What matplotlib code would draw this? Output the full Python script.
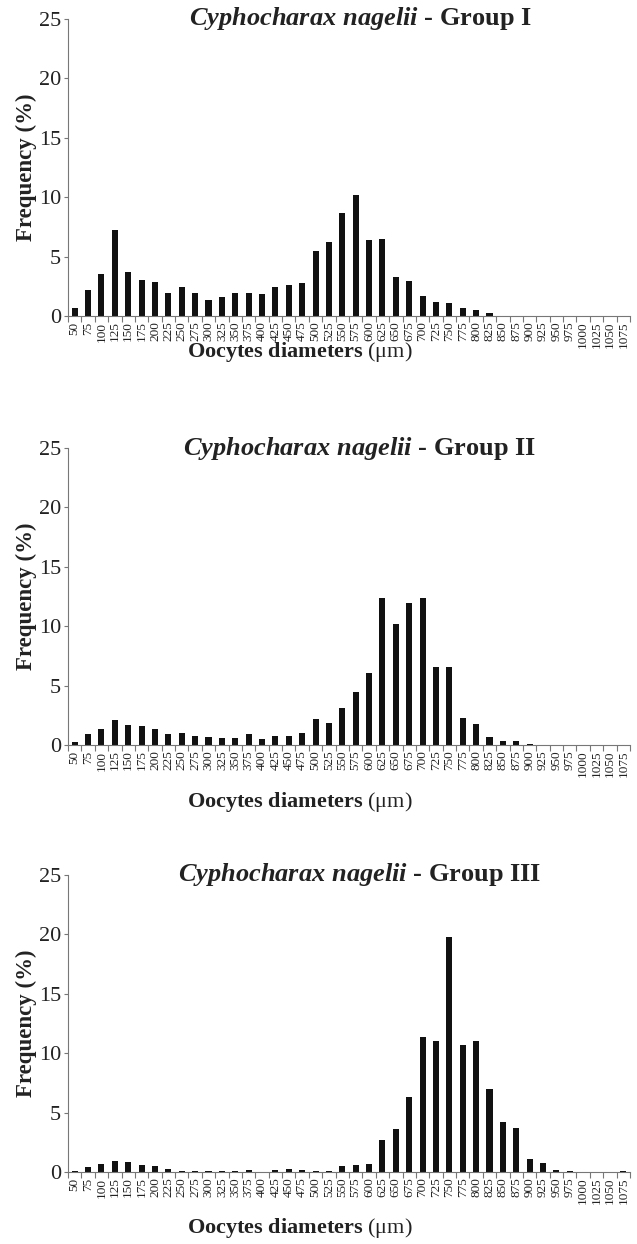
import matplotlib.pyplot as plt
import numpy as np

plt.rcParams['font.family'] = 'Liberation Serif'
plt.rcParams['mathtext.fontset'] = 'custom'
plt.rcParams['mathtext.it'] = 'Liberation Serif:italic:bold'
plt.rcParams['mathtext.rm'] = 'Liberation Serif'

# Oocyte diameter classes (um)
diameters = list(range(50, 1100, 25))

# Frequency (%) per class
group1 = [0.65, 2.2, 3.5, 7.2, 3.7, 3.0, 2.85, 1.93, 2.46, 1.93, 1.37, 1.57, 1.93, 1.93,
          1.88, 2.46, 2.63, 2.8, 5.43, 6.25, 8.7, 10.2, 6.4, 6.5, 3.25, 2.94, 1.68, 1.18,
          1.09, 0.65, 0.5, 0.22, 0, 0, 0, 0, 0, 0, 0, 0, 0, 0]
group2 = [0.25, 0.9, 1.37, 2.07, 1.68, 1.62, 1.32, 0.9, 1.04, 0.73, 0.64, 0.59, 0.59, 0.9,
          0.5, 0.73, 0.78, 0.98, 2.16, 1.82, 3.08, 4.48, 6.1, 12.35, 10.15, 11.95, 12.4, 6.55,
          6.55, 2.27, 1.74, 0.64, 0.3, 0.3, 0.1, 0, 0, 0, 0, 0, 0, 0]
group3 = [0.05, 0.45, 0.65, 0.93, 0.85, 0.6, 0.48, 0.28, 0.08, 0.08, 0.08, 0.08, 0.08, 0.17,
          0, 0.17, 0.22, 0.17, 0.08, 0.08, 0.5, 0.56, 0.68, 2.68, 3.66, 6.34, 11.4, 11.0,
          19.8, 10.65, 11.0, 6.96, 4.17, 3.69, 1.13, 0.79, 0.14, 0.06, 0, 0, 0, 0.06]

titles = [r'$\mathit{Cyphocharax\ nagelii}$ - Group I',
          r'$\mathit{Cyphocharax\ nagelii}$ - Group II',
          r'$\mathit{Cyphocharax\ nagelii}$ - Group III']
groups = [group1, group2, group3]

W, H = 637, 1244
fig = plt.figure(figsize=(W / 100, H / 100), dpi=100)

left, right = 68, 630
baselines = [316, 745, 1172]   # pixel row of the x axis
ax_h = 297
xlabel_y = [352, 802, 1228]

x = np.arange(len(diameters))
grey = '#777777'
txt = '#222222'
for k, (vals, title) in enumerate(zip(groups, titles)):
    b = baselines[k]
    ax = fig.add_axes([left / W, (H - b) / H, (right - left) / W, ax_h / H])
    ax.bar(x, vals, width=0.45, color='#111111')
    ax.set_xlim(-0.5, len(diameters) - 0.5)
    ax.set_ylim(0, 25)
    ax.set_yticks([0, 5, 10, 15, 20, 25])
    ax.tick_params(axis='y', labelsize=16, length=3, width=0.8, color=grey, pad=2,
                   labelcolor=txt)
    ax.set_xticks(x)
    ax.set_xticklabels([str(d) for d in diameters], rotation=90, fontsize=9.5, color=txt)
    ax.tick_params(axis='x', which='major', length=0, pad=4)
    ax.set_xticks(np.arange(-0.5, len(diameters)), minor=True)
    ax.tick_params(axis='x', which='minor', length=4, width=0.8, color=grey)
    for s in ['top', 'right']:
        ax.spines[s].set_visible(False)
    for s in ['left', 'bottom']:
        ax.spines[s].set_color(grey)
        ax.spines[s].set_linewidth(0.8)

    mid = b - ax_h / 2
    fig.text(26 / W, 1 - mid / H, 'Frequency (%)', rotation=90, ha='center', va='center',
             fontsize=16.5, fontweight='bold', color=txt)
    fig.text(360 / W, 1 - (b - ax_h) / H, title, ha='center', va='center',
             fontsize=19, fontweight='bold', color=txt)
    fig.text(300 / W, 1 - xlabel_y[k] / H, r'Oocytes diameters $\mathrm{(\mu m)}$',
             ha='center', va='center', fontsize=16, fontweight='bold', color=txt)

fig.savefig('out.png', dpi=100)
